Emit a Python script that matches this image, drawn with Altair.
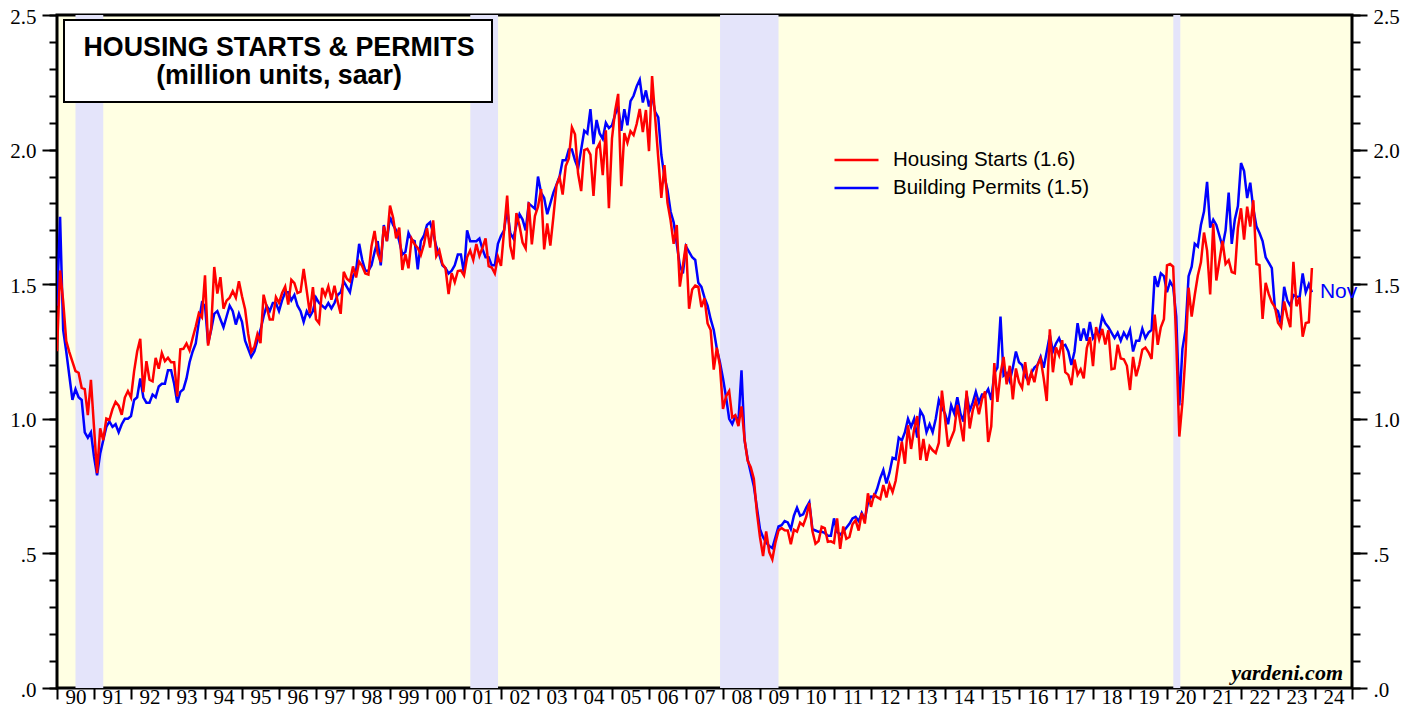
import altair as alt
import pandas as pd

# ---------------- data (million units, saar) ----------------
first_year, first_month = 1989, 12   # first observation: Dec 1989
month_names = ["Jan", "Feb", "Mar", "Apr", "May", "Jun",
               "Jul", "Aug", "Sep", "Oct", "Nov", "Dec"]

starts = [
    1.251,
    1.551, 1.437, 1.289, 1.248, 1.212, 1.177, 1.171, 1.115, 1.110, 1.014, 1.145, 0.969,  # 1990
    0.798, 0.965, 0.921, 1.001, 0.996, 1.036, 1.063, 1.049, 1.015, 1.079, 1.103, 1.079,  # 1991
    1.176, 1.250, 1.297, 1.099, 1.214, 1.145, 1.139, 1.226, 1.186, 1.244, 1.214, 1.227,  # 1992
    1.210, 1.210, 1.083, 1.258, 1.260, 1.280, 1.254, 1.300, 1.343, 1.392, 1.377, 1.533,  # 1993
    1.272, 1.337, 1.564, 1.465, 1.526, 1.409, 1.439, 1.450, 1.474, 1.450, 1.511, 1.455,  # 1994
    1.407, 1.316, 1.249, 1.267, 1.314, 1.281, 1.461, 1.416, 1.369, 1.369, 1.452, 1.431,  # 1995
    1.467, 1.491, 1.424, 1.516, 1.504, 1.467, 1.472, 1.557, 1.475, 1.392, 1.489, 1.370,  # 1996
    1.355, 1.486, 1.457, 1.492, 1.442, 1.494, 1.437, 1.390, 1.546, 1.520, 1.510, 1.566,  # 1997
    1.525, 1.584, 1.567, 1.540, 1.536, 1.641, 1.698, 1.614, 1.582, 1.715, 1.660, 1.792,  # 1998
    1.748, 1.670, 1.710, 1.553, 1.611, 1.559, 1.669, 1.648, 1.635, 1.608, 1.648, 1.708,  # 1999
    1.636, 1.737, 1.604, 1.626, 1.575, 1.559, 1.463, 1.541, 1.507, 1.549, 1.551, 1.532,  # 2000
    1.600, 1.625, 1.590, 1.649, 1.605, 1.636, 1.670, 1.567, 1.562, 1.540, 1.602, 1.568,  # 2001
    1.698, 1.829, 1.642, 1.592, 1.764, 1.717, 1.655, 1.633, 1.804, 1.648, 1.753, 1.788,  # 2002
    1.853, 1.629, 1.726, 1.643, 1.751, 1.867, 1.897, 1.833, 1.939, 1.967, 2.083, 2.057,  # 2003
    1.911, 1.846, 1.998, 2.003, 1.981, 1.828, 2.002, 2.024, 1.905, 2.072, 1.782, 2.042,  # 2004
    2.144, 2.207, 1.864, 2.061, 2.025, 2.068, 2.054, 2.095, 2.151, 2.065, 2.147, 1.994,  # 2005
    2.273, 2.119, 1.969, 1.821, 1.942, 1.802, 1.737, 1.650, 1.720, 1.491, 1.570, 1.649,  # 2006
    1.409, 1.480, 1.495, 1.490, 1.415, 1.448, 1.354, 1.330, 1.183, 1.264, 1.197, 1.037,  # 2007
    1.084, 1.103, 1.005, 1.013, 0.973, 1.046, 0.923, 0.844, 0.820, 0.777, 0.652, 0.560,  # 2008
    0.490, 0.582, 0.505, 0.478, 0.540, 0.585, 0.594, 0.586, 0.585, 0.534, 0.588, 0.581,  # 2009
    0.614, 0.604, 0.636, 0.687, 0.583, 0.536, 0.546, 0.599, 0.594, 0.543, 0.545, 0.539,  # 2010
    0.630, 0.517, 0.600, 0.554, 0.561, 0.608, 0.623, 0.585, 0.650, 0.611, 0.723, 0.673,  # 2011
    0.718, 0.709, 0.702, 0.754, 0.708, 0.757, 0.728, 0.770, 0.847, 0.915, 0.833, 0.976,  # 2012
    0.888, 0.962, 1.010, 0.847, 0.925, 0.844, 0.898, 0.883, 0.873, 0.911, 1.105, 1.003,  # 2013
    0.897, 0.928, 0.957, 1.051, 0.984, 0.916, 1.105, 0.964, 1.031, 1.069, 1.017, 1.072,  # 2014
    1.102, 0.914, 0.972, 1.207, 1.063, 1.168, 1.230, 1.128, 1.197, 1.072, 1.187, 1.136,  # 2015
    1.114, 1.210, 1.125, 1.172, 1.136, 1.199, 1.224, 1.151, 1.066, 1.332, 1.173, 1.265,  # 2016
    1.236, 1.292, 1.173, 1.163, 1.125, 1.220, 1.164, 1.184, 1.150, 1.263, 1.303, 1.196,  # 2017
    1.341, 1.295, 1.334, 1.276, 1.329, 1.184, 1.187, 1.275, 1.224, 1.221, 1.197, 1.107,  # 2018
    1.230, 1.158, 1.200, 1.257, 1.265, 1.247, 1.222, 1.387, 1.275, 1.340, 1.370, 1.570,  # 2019
    1.575, 1.565, 1.287, 0.934, 1.061, 1.238, 1.487, 1.380, 1.460, 1.532, 1.581, 1.692,  # 2020
    1.625, 1.462, 1.725, 1.514, 1.586, 1.661, 1.575, 1.589, 1.545, 1.541, 1.709, 1.782,  # 2021
    1.666, 1.788, 1.714, 1.812, 1.575, 1.571, 1.371, 1.505, 1.463, 1.432, 1.415, 1.357,  # 2022
    1.340, 1.436, 1.380, 1.340, 1.583, 1.418, 1.451, 1.305, 1.356, 1.359, 1.560,         # 2023
]

permits = [
    1.42,
    1.75, 1.33, 1.25, 1.16, 1.07, 1.11, 1.08, 1.07, 0.95, 0.93, 0.95, 0.86,  # 1990
    0.79, 0.87, 0.92, 0.97, 0.99, 0.97, 0.98, 0.95, 0.98, 1.00, 1.00, 1.01,  # 1991
    1.07, 1.08, 1.15, 1.08, 1.06, 1.06, 1.09, 1.08, 1.12, 1.13, 1.13, 1.18,  # 1992
    1.18, 1.13, 1.06, 1.10, 1.11, 1.15, 1.21, 1.25, 1.28, 1.36, 1.43, 1.42,  # 1993
    1.28, 1.33, 1.39, 1.40, 1.37, 1.34, 1.38, 1.42, 1.40, 1.35, 1.39, 1.36,  # 1994
    1.29, 1.26, 1.23, 1.25, 1.29, 1.33, 1.38, 1.42, 1.40, 1.43, 1.43, 1.40,  # 1995
    1.44, 1.47, 1.47, 1.44, 1.46, 1.42, 1.40, 1.36, 1.40, 1.38, 1.40, 1.45,  # 1996
    1.43, 1.42, 1.41, 1.43, 1.41, 1.43, 1.46, 1.47, 1.51, 1.49, 1.47, 1.53,  # 1997
    1.55, 1.65, 1.59, 1.55, 1.55, 1.57, 1.62, 1.66, 1.57, 1.72, 1.66, 1.75,  # 1998
    1.72, 1.70, 1.66, 1.61, 1.62, 1.69, 1.665, 1.66, 1.555, 1.66, 1.68, 1.72,  # 1999
    1.73, 1.69, 1.64, 1.61, 1.57, 1.56, 1.54, 1.55, 1.57, 1.61, 1.61, 1.54,  # 2000
    1.70, 1.66, 1.66, 1.66, 1.67, 1.63, 1.60, 1.60, 1.57, 1.57, 1.65, 1.68,  # 2001
    1.70, 1.78, 1.69, 1.67, 1.72, 1.76, 1.74, 1.70, 1.80, 1.79, 1.78, 1.90,  # 2002
    1.84, 1.82, 1.76, 1.80, 1.84, 1.87, 1.90, 1.96, 1.96, 2.00, 2.00, 1.96,  # 2003
    1.93, 2.00, 2.07, 2.06, 2.15, 2.02, 2.11, 2.06, 2.04, 2.10, 2.08, 2.09,  # 2004
    2.13, 2.16, 2.07, 2.15, 2.09, 2.18, 2.20, 2.235, 2.26, 2.175, 2.22, 2.16,  # 2005
    2.20, 2.14, 2.12, 1.98, 1.90, 1.85, 1.77, 1.73, 1.65, 1.57, 1.54, 1.64,  # 2006
    1.62, 1.60, 1.59, 1.505, 1.49, 1.45, 1.42, 1.37, 1.33, 1.26, 1.21, 1.15,  # 2007
    1.08, 1.00, 0.98, 1.01, 0.99, 1.18, 0.92, 0.85, 0.80, 0.75, 0.67, 0.59,  # 2008
    0.56, 0.54, 0.527, 0.52, 0.56, 0.60, 0.605, 0.62, 0.615, 0.59, 0.64, 0.67,  # 2009
    0.64, 0.645, 0.67, 0.69, 0.59, 0.585, 0.58, 0.58, 0.576, 0.566, 0.566, 0.63,  # 2010
    0.58, 0.57, 0.58, 0.595, 0.61, 0.63, 0.636, 0.62, 0.65, 0.625, 0.687, 0.711,  # 2011
    0.71, 0.74, 0.78, 0.81, 0.76, 0.80, 0.855, 0.85, 0.93, 0.92, 0.95, 1.00,  # 2012
    0.97, 1.00, 0.93, 1.03, 1.01, 0.95, 0.98, 0.95, 1.00, 1.07, 1.04, 1.02,  # 2013
    0.98, 1.05, 1.02, 1.08, 1.02, 0.99, 1.09, 1.03, 1.06, 1.10, 1.06, 1.09,  # 2014
    1.09, 1.11, 1.07, 1.17, 1.19, 1.38, 1.16, 1.17, 1.14, 1.19, 1.25, 1.21,  # 2015
    1.20, 1.16, 1.14, 1.17, 1.19, 1.20, 1.23, 1.19, 1.25, 1.31, 1.25, 1.28,  # 2016
    1.30, 1.27, 1.275, 1.25, 1.20, 1.25, 1.355, 1.29, 1.335, 1.29, 1.36, 1.30,  # 2017
    1.32, 1.32, 1.38, 1.355, 1.34, 1.32, 1.30, 1.32, 1.29, 1.32, 1.30, 1.33,  # 2018
    1.25, 1.29, 1.29, 1.335, 1.30, 1.32, 1.33, 1.53, 1.49, 1.54, 1.53, 1.47,  # 2019
    1.51, 1.49, 1.38, 1.05, 1.26, 1.33, 1.53, 1.565, 1.65, 1.64, 1.72, 1.77,  # 2020
    1.88, 1.71, 1.74, 1.72, 1.68, 1.64, 1.70, 1.84, 1.65, 1.74, 1.79, 1.95,  # 2021
    1.92, 1.82, 1.877, 1.78, 1.715, 1.69, 1.66, 1.60, 1.58, 1.56, 1.41, 1.40,  # 2022
    1.35, 1.49, 1.44, 1.42, 1.46, 1.455, 1.45, 1.54, 1.47, 1.50, 1.47,        # 2023
]

series_names = ["Housing Starts (1.6)", "Building Permits (1.5)"]
series_colors = ["#FF0000", "#0000FF"]

# recessions (decimal years)
rec_start = [1990.5, 2001.17, 2007.92, 2020.17]
rec_end = [1991.25, 2001.92, 2009.5, 2020.36]

year_ticks = list(range(1990, 2026))
year_label_pos = [y + 0.5 for y in range(1990, 2025)]
y_major = [0.0, 0.5, 1.0, 1.5, 2.0, 2.5]
y_minor = [round(i * 0.1, 1) for i in range(26)]

title_lines = ["HOUSING STARTS & PERMITS", "(million units, saar)"]
source_text = "yardeni.com"

# ---------------- build tables ----------------
times, mons = [], []
yy, mm = first_year, first_month
for _ in range(len(starts)):
    times.append(yy + mm / 12.0)   # end-of-month position
    mons.append(month_names[mm - 1])
    mm += 1
    if mm > 12:
        mm = 1
        yy += 1

df_starts = pd.DataFrame({"t": times, "v": starts, "series": series_names[0], "mon": mons})
df_permits = pd.DataFrame({"t": times, "v": permits, "series": series_names[1], "mon": mons})
df_rec = pd.DataFrame({"s": rec_start, "e": rec_end})
last_permit = df_permits.tail(1)

W, H = 1295, 673
xscale = alt.Scale(domain=[1990, 2025], nice=False, zero=False)
yscale = alt.Scale(domain=[0, 2.5], nice=False)

SERIF = "Liberation Serif"
SANS = "Liberation Sans"

legend = alt.Legend(
    title=None, orient="none", legendX=776, legendY=131,
    symbolType="stroke", symbolSize=1936, symbolStrokeWidth=2.5,
    labelFont=SANS, labelFontSize=20.5, labelColor="black",
    labelOffset=13, clipHeight=28, padding=0, rowPadding=0, labelLimit=500,
)
color = alt.Color("series:N",
                  scale=alt.Scale(domain=series_names, range=series_colors),
                  legend=legend)

y_lab_expr = "datum.value < 1 ? '.' + format(datum.value * 10, 'd') : format(datum.value, '.1f')"

def y_axis(orient, values, major):
    if major:
        return alt.Axis(orient=orient, values=values, tickSize=15, tickWidth=2,
                        labels=True, labelExpr=y_lab_expr, labelFont=SERIF,
                        labelFontSize=21, labelPadding=6, labelColor="black",
                        labelOffset=2,
                        domain=False, grid=False, title=None)
    return alt.Axis(orient=orient, values=values, tickSize=8, tickWidth=2,
                    labels=False, domain=False, grid=False, title=None)

# recession shading + year ticks
rect = alt.Chart(df_rec).mark_rect(color="#E4E4FA").encode(
    x=alt.X("s:Q", scale=xscale,
            axis=alt.Axis(orient="bottom", values=year_ticks, labels=False,
                          tickSize=11, tickWidth=2, tickColor="black",
                          domain=False, grid=False, title=None)),
    x2="e:Q",
)

# title box
box = alt.Chart(alt.Data(values=[{}])).mark_rect(
    fill="white", stroke="black", strokeWidth=2
).encode(x=alt.value(7), x2=alt.value(435), y=alt.value(5), y2=alt.value(87))
box_t1 = alt.Chart(alt.Data(values=[{}])).mark_text(
    font=SANS, fontWeight="bold", fontSize=26.8, align="center", baseline="middle", color="black"
).encode(x=alt.value(222), y=alt.value(33), text=alt.value(title_lines[0]))
box_t2 = alt.Chart(alt.Data(values=[{}])).mark_text(
    font=SANS, fontWeight="bold", fontSize=26.8, align="center", baseline="middle", color="black"
).encode(x=alt.value(222), y=alt.value(61), text=alt.value(title_lines[1]))

permits_line = alt.Chart(df_permits).mark_line(strokeWidth=2.5, clip=True).encode(
    x=alt.X("t:Q", scale=xscale,
            axis=alt.Axis(orient="bottom", values=year_label_pos, ticks=False,
                          labelExpr="format(floor(datum.value) % 100, '02d')",
                          labelFont=SERIF, labelFontSize=21, labelColor="black",
                          labelBaseline="bottom", labelPadding=19,
                          labelOverlap=False, labelFlush=False,
                          domain=False, grid=False, title=None)),
    y=alt.Y("v:Q", scale=yscale, axis=y_axis("right", y_major, True)),
    color=color,
)

starts_line = alt.Chart(df_starts).mark_line(strokeWidth=2.5, clip=True).encode(
    x=alt.X("t:Q", scale=xscale, axis=None),
    y=alt.Y("v:Q", scale=yscale, axis=y_axis("left", y_major, True)),
    color=color,
)

nov = alt.Chart(last_permit).mark_text(
    align="left", baseline="middle", dx=8, color="#0000FF", font=SANS, fontSize=21
).encode(
    x=alt.X("t:Q", scale=xscale, axis=None),
    y=alt.Y("v:Q", scale=yscale, axis=y_axis("left", y_minor, False)),
    text="mon:N",
)

ghost = alt.Chart(last_permit).mark_point(opacity=0).encode(
    x=alt.X("t:Q", scale=xscale, axis=None),
    y=alt.Y("v:Q", scale=yscale, axis=y_axis("right", y_minor, False)),
)

source = alt.Chart(alt.Data(values=[{}])).mark_text(
    font=SERIF, fontWeight="bold", fontStyle="italic", fontSize=22,
    align="right", baseline="alphabetic", color="black"
).encode(x=alt.value(1286), y=alt.value(665), text=alt.value(source_text))

chart = alt.layer(
    rect, box, box_t1, box_t2, permits_line, starts_line, nov, ghost, source
).resolve_scale(
    x="shared", y="shared"
).resolve_axis(
    x="independent", y="independent"
).properties(
    width=W, height=H,
    autosize=alt.AutoSizeParams(type="none"),
    padding={"left": 49, "top": 7, "right": 52, "bottom": 19},
).configure_view(
    fill="#FFFFE3", stroke="black", strokeWidth=3
).configure_axis(
    grid=False, tickColor="black", labelColor="black"
)

chart.save("out.html", embed_options={"renderer": "svg", "actions": False})
